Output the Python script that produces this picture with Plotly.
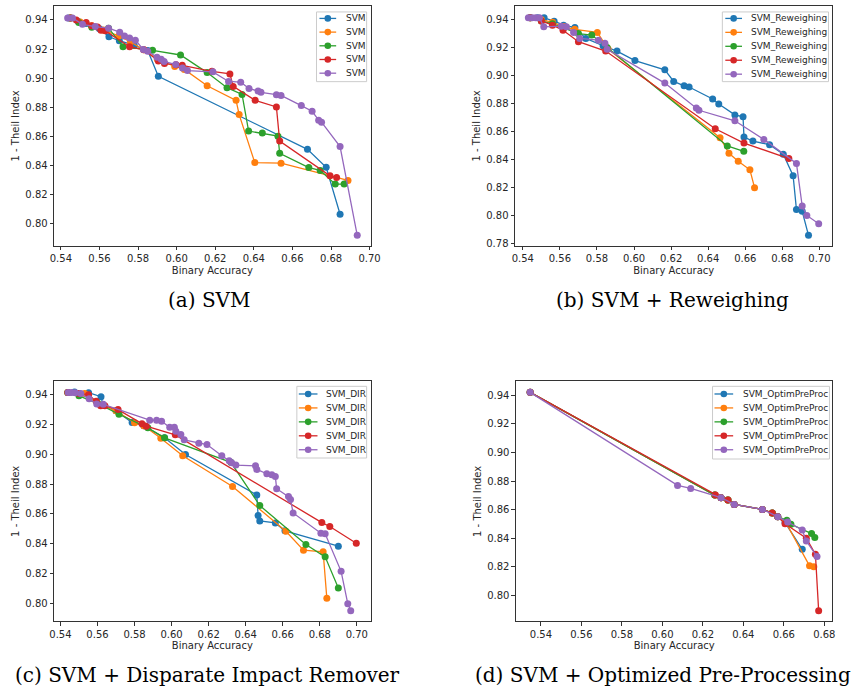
import plotly.graph_objects as go

W, H = 866, 693
COLORS = ["#1f77b4", "#ff7f0e", "#2ca02c", "#d62728", "#9467bd"]

# ---------------- (a) SVM ----------------
a_label = "SVM"
a_acc_1 = [0.5440, 0.5490, 0.5530, 0.5600, 0.5649, 0.5703, 0.5780, 0.5850, 0.5905, 0.6678, 0.6775, 0.6847]
a_thl_1 = [0.9414, 0.9390, 0.9375, 0.9340, 0.9284, 0.9257, 0.9225, 0.9190, 0.9013, 0.8510, 0.8387, 0.8064]
a_acc_2 = [0.5450, 0.5500, 0.5560, 0.5620, 0.5700, 0.5760, 0.5830, 0.5900, 0.5990, 0.6040, 0.6158, 0.6308, 0.6324, 0.6405, 0.6541, 0.6888]
a_thl_2 = [0.9414, 0.9385, 0.9360, 0.9330, 0.9290, 0.9250, 0.9195, 0.9130, 0.9080, 0.9060, 0.8947, 0.8847, 0.8749, 0.8419, 0.8415, 0.8296]
a_acc_3 = [0.5450, 0.5493, 0.5560, 0.5647, 0.5722, 0.5875, 0.6020, 0.6158, 0.6261, 0.6339, 0.6373, 0.6444, 0.6525, 0.6534, 0.6685, 0.6744, 0.6822, 0.6868]
a_thl_3 = [0.9414, 0.9382, 0.9350, 0.9343, 0.9216, 0.9191, 0.9159, 0.9038, 0.8934, 0.8888, 0.8636, 0.8622, 0.8601, 0.8483, 0.8385, 0.8365, 0.8271, 0.8271]
a_acc_4 = [0.5450, 0.5480, 0.5531, 0.5560, 0.5590, 0.5608, 0.5630, 0.5756, 0.5830, 0.5905, 0.5937, 0.5997, 0.6029, 0.6183, 0.6276, 0.6293, 0.6407, 0.6517, 0.6534, 0.6795, 0.6829]
a_thl_4 = [0.9414, 0.9400, 0.9382, 0.9360, 0.9352, 0.9329, 0.9325, 0.9216, 0.9195, 0.9118, 0.9100, 0.9091, 0.9088, 0.9047, 0.9029, 0.8943, 0.8847, 0.8802, 0.8567, 0.8328, 0.8317]
a_acc_5 = [0.5435, 0.5460, 0.5512, 0.5578, 0.5647, 0.5705, 0.5730, 0.5756, 0.5786, 0.5827, 0.5850, 0.5898, 0.5920, 0.5935, 0.5995, 0.6030, 0.6056, 0.6188, 0.6269, 0.6332, 0.6375, 0.6422, 0.6437, 0.6517, 0.6541, 0.6646, 0.6702, 0.6736, 0.6751, 0.6847, 0.6936]
a_thl_5 = [0.9414, 0.9414, 0.9370, 0.9354, 0.9343, 0.9316, 0.9290, 0.9275, 0.9261, 0.9197, 0.9185, 0.9143, 0.9130, 0.9115, 0.9093, 0.9070, 0.9052, 0.9043, 0.8977, 0.8972, 0.8929, 0.8911, 0.8902, 0.8886, 0.8881, 0.8811, 0.8772, 0.8711, 0.8697, 0.8529, 0.7919]

# ---------------- (b) SVM + Reweighing ----------------
b_label = "SVM_Reweighing"
b_acc_1 = [0.5440, 0.5480, 0.5515, 0.5569, 0.5620, 0.5681, 0.5740, 0.5833, 0.5908, 0.6005, 0.6166, 0.6214, 0.6270, 0.6297, 0.6424, 0.6457, 0.6544, 0.6588, 0.6593, 0.6641, 0.6731, 0.6805, 0.6858, 0.6876, 0.6907, 0.6941]
b_thl_1 = [0.9412, 0.9412, 0.9412, 0.9388, 0.9360, 0.9343, 0.9265, 0.9213, 0.9175, 0.9107, 0.9041, 0.8958, 0.8927, 0.8918, 0.8833, 0.8797, 0.8719, 0.8705, 0.8561, 0.8532, 0.8506, 0.8438, 0.8284, 0.8043, 0.8031, 0.7859]
b_acc_2 = [0.5440, 0.5500, 0.5560, 0.5620, 0.5680, 0.5802, 0.5860, 0.6464, 0.6512, 0.6562, 0.6625, 0.6650]
b_thl_2 = [0.9412, 0.9400, 0.9380, 0.9350, 0.9330, 0.9308, 0.9190, 0.8556, 0.8445, 0.8388, 0.8327, 0.8199]
b_acc_3 = [0.5440, 0.5500, 0.5560, 0.5620, 0.5700, 0.5772, 0.5855, 0.6503, 0.6592]
b_thl_3 = [0.9412, 0.9390, 0.9370, 0.9340, 0.9300, 0.9289, 0.9200, 0.8497, 0.8459]
b_acc_4 = [0.5440, 0.5500, 0.5560, 0.5617, 0.5700, 0.5847, 0.6438, 0.6593, 0.6835]
b_thl_4 = [0.9412, 0.9390, 0.9360, 0.9324, 0.9242, 0.9175, 0.8620, 0.8518, 0.8407]
b_acc_5 = [0.5430, 0.5450, 0.5470, 0.5490, 0.5513, 0.5608, 0.5635, 0.5674, 0.5707, 0.5808, 0.5843, 0.5855, 0.6166, 0.6336, 0.6350, 0.6544, 0.6700, 0.6876, 0.6907, 0.6932, 0.6996]
b_thl_5 = [0.9412, 0.9412, 0.9412, 0.9412, 0.9348, 0.9353, 0.9348, 0.9308, 0.9265, 0.9253, 0.9230, 0.9187, 0.8946, 0.8769, 0.8752, 0.8677, 0.8544, 0.8372, 0.8068, 0.8001, 0.7941]

# ---------------- (c) SVM + Disparate Impact Remover ----------------
c_label = "SVM_DIR"
c_acc_1 = [0.5440, 0.5476, 0.5552, 0.5619, 0.5630, 0.5700, 0.5787, 0.5850, 0.5962, 0.6075, 0.6460, 0.6467, 0.6476, 0.6560, 0.6612, 0.6900]
c_thl_1 = [0.9413, 0.9416, 0.9411, 0.9384, 0.9330, 0.9290, 0.9211, 0.9190, 0.9109, 0.8998, 0.8727, 0.8589, 0.8553, 0.8540, 0.8487, 0.8384]
c_acc_2 = [0.5440, 0.5531, 0.5600, 0.5700, 0.5800, 0.5850, 0.5942, 0.6060, 0.6329, 0.6617, 0.6712, 0.6818, 0.6838]
c_thl_2 = [0.9413, 0.9405, 0.9340, 0.9290, 0.9210, 0.9190, 0.9107, 0.8989, 0.8784, 0.8484, 0.8358, 0.8347, 0.8036]
c_acc_3 = [0.5440, 0.5500, 0.5600, 0.5716, 0.5872, 0.5962, 0.6320, 0.6476, 0.6725, 0.6829, 0.6900]
c_thl_3 = [0.9413, 0.9390, 0.9340, 0.9267, 0.9176, 0.9109, 0.8945, 0.8656, 0.8396, 0.8313, 0.8104]
c_acc_4 = [0.5440, 0.5500, 0.5552, 0.5593, 0.5617, 0.5640, 0.5711, 0.5840, 0.5863, 0.6020, 0.6811, 0.6854, 0.6997]
c_thl_4 = [0.9413, 0.9405, 0.9398, 0.9353, 0.9324, 0.9324, 0.9298, 0.9204, 0.9187, 0.9129, 0.8542, 0.8516, 0.8404]
c_acc_5 = [0.5442, 0.5460, 0.5480, 0.5510, 0.5555, 0.5596, 0.5631, 0.5882, 0.5919, 0.5946, 0.5990, 0.6015, 0.6023, 0.6050, 0.6068, 0.6147, 0.6191, 0.6271, 0.6311, 0.6324, 0.6347, 0.6453, 0.6460, 0.6514, 0.6541, 0.6560, 0.6567, 0.6631, 0.6642, 0.6656, 0.6806, 0.6829, 0.6915, 0.6951, 0.6967]
c_thl_5 = [0.9413, 0.9413, 0.9410, 0.9405, 0.9371, 0.9336, 0.9333, 0.9227, 0.9227, 0.9220, 0.9180, 0.9180, 0.9153, 0.9131, 0.9096, 0.9073, 0.9064, 0.8989, 0.8956, 0.8942, 0.8927, 0.8922, 0.8898, 0.8869, 0.8862, 0.8851, 0.8769, 0.8716, 0.8696, 0.8607, 0.8471, 0.8467, 0.8216, 0.8000, 0.7953]

# ---------------- (d) SVM + Optimized Pre-Processing ----------------
d_label = "SVM_OptimPreProc"
d_acc_1 = [0.5347, 0.6259, 0.6290, 0.6324, 0.6355, 0.6494, 0.6543, 0.6570, 0.6606, 0.6691]
d_thl_1 = [0.9421, 0.8702, 0.8684, 0.8667, 0.8637, 0.8602, 0.8577, 0.8551, 0.8510, 0.8323]
d_acc_2 = [0.5347, 0.6259, 0.6290, 0.6324, 0.6355, 0.6494, 0.6543, 0.6570, 0.6612, 0.6727, 0.6748]
d_thl_2 = [0.9421, 0.8702, 0.8684, 0.8667, 0.8637, 0.8602, 0.8577, 0.8551, 0.8505, 0.8207, 0.8200]
d_acc_3 = [0.5347, 0.6259, 0.6290, 0.6324, 0.6355, 0.6494, 0.6543, 0.6570, 0.6615, 0.6635, 0.6737, 0.6753]
d_thl_3 = [0.9421, 0.8702, 0.8684, 0.8667, 0.8637, 0.8602, 0.8577, 0.8551, 0.8526, 0.8498, 0.8433, 0.8405]
d_acc_4 = [0.5347, 0.6262, 0.6290, 0.6324, 0.6355, 0.6494, 0.6543, 0.6570, 0.6606, 0.6711, 0.6756, 0.6772]
d_thl_4 = [0.9421, 0.8702, 0.8684, 0.8667, 0.8637, 0.8602, 0.8577, 0.8551, 0.8502, 0.8400, 0.8288, 0.7893]
d_acc_5 = [0.5347, 0.6075, 0.6140, 0.6290, 0.6355, 0.6494, 0.6570, 0.6619, 0.6691, 0.6711, 0.6764]
d_thl_5 = [0.9421, 0.8770, 0.8749, 0.8684, 0.8637, 0.8602, 0.8551, 0.8514, 0.8458, 0.8381, 0.8272]

captions = ["(a) SVM", "(b) SVM + Reweighing",
            "(c) SVM + Disparate Impact Remover", "(d) SVM + Optimized Pre-Processing"]
x_title = "Binary Accuracy"
y_title = "1 - Theil Index"

# ---------------- layout helpers (pixel geometry) ----------------
def px(x):
    return x / W

def py(y):
    return 1 - y / H

panels = [
    dict(acc=[a_acc_1, a_acc_2, a_acc_3, a_acc_4, a_acc_5],
         thl=[a_thl_1, a_thl_2, a_thl_3, a_thl_4, a_thl_5], label=a_label,
         box=(50, 6, 372, 247), xr=[0.5365, 0.7005], yr=[0.7846, 0.9496],
         leg=dict(box=(317, 12, 368, 82), y0=18.5, dy=13.75, lx=(320, 337), mx=328.5, tx=345),
         cap=(208, 301)),
    dict(acc=[b_acc_1, b_acc_2, b_acc_3, b_acc_4, b_acc_5],
         thl=[b_thl_1, b_thl_2, b_thl_3, b_thl_4, b_thl_5], label=b_label,
         box=(519, 6, 842, 247), xr=[0.5358, 0.7070], yr=[0.7783, 0.9497],
         leg=dict(box=(730, 12, 838, 82), y0=18.5, dy=14.0, lx=(733, 750), mx=741.5, tx=757),
         cap=(679, 301)),
    dict(acc=[c_acc_1, c_acc_2, c_acc_3, c_acc_4, c_acc_5],
         thl=[c_thl_1, c_thl_2, c_thl_3, c_thl_4, c_thl_5], label=c_label,
         box=(50, 383, 372, 624), xr=[0.5366, 0.7074], yr=[0.7882, 0.9487],
         leg=dict(box=(297, 388, 368, 460), y0=395.7, dy=14.0, lx=(299, 318), mx=308.5, tx=325),
         cap=(206, 678)),
    dict(acc=[d_acc_1, d_acc_2, d_acc_3, d_acc_4, d_acc_5],
         thl=[d_thl_1, d_thl_2, d_thl_3, d_thl_4, d_thl_5], label=d_label,
         box=(520, 383, 842, 624), xr=[0.5277, 0.6840], yr=[0.7819, 0.9498],
         leg=dict(box=(720, 388, 839, 461), y0=395.7, dy=14.0, lx=(722, 741), mx=731.5, tx=749),
         cap=(670, 678)),
]

TICK_FONT = dict(family="DejaVu Sans", size=10, color="#262626")
LEG_FONT = dict(family="DejaVu Sans", size=9, color="#262626")
fig = go.Figure()
shapes = []
annotations = []
layout_axes = {}

for i, p in enumerate(panels):
    sfx = "" if i == 0 else str(i + 1)
    xa, ya = "x" + sfx, "y" + sfx
    for k in range(5):
        fig.add_trace(go.Scatter(
            x=p["acc"][k], y=p["thl"][k], mode="lines+markers", name=p["label"],
            xaxis=xa, yaxis=ya, showlegend=False,
            line=dict(color=COLORS[k], width=1.3),
            marker=dict(color=COLORS[k], size=7, line=dict(width=0)),
        ))
    x0, y0, x1, y1 = p["box"]
    common = dict(showline=True, mirror=True, linecolor="#333333", linewidth=1,
                  ticks="outside", ticklen=3.5, tickwidth=0.8, tickcolor="#333333",
                  showgrid=False, zeroline=False, tickfont=TICK_FONT, dtick=0.02,
                  tickformat=".2f", fixedrange=True)
    layout_axes["xaxis" + sfx] = dict(common, domain=[px(x0), px(x1)], range=p["xr"],
                                      anchor=ya, tick0=0.54,
                                      title=dict(text=x_title, font=TICK_FONT, standoff=3))
    layout_axes["yaxis" + sfx] = dict(common, domain=[py(y1), py(y0)], range=p["yr"],
                                      anchor=xa, tick0=0.80,
                                      title=dict(text=y_title, font=TICK_FONT, standoff=3))

    # legend (drawn as in the original matplotlib legend box)
    lg = p["leg"]
    bx0, by0, bx1, by1 = lg["box"]
    shapes.append(dict(type="rect", xref="paper", yref="paper",
                       x0=px(bx0), x1=px(bx1), y0=py(by1), y1=py(by0),
                       fillcolor="rgba(255,255,255,0.8)", line=dict(color="#cccccc", width=1),
                       layer="above"))
    for k in range(5):
        yy = lg["y0"] + k * lg["dy"]
        shapes.append(dict(type="line", xref="paper", yref="paper",
                           x0=px(lg["lx"][0]), x1=px(lg["lx"][1]), y0=py(yy), y1=py(yy),
                           line=dict(color=COLORS[k], width=1.3), layer="above"))
        shapes.append(dict(type="circle", xref="paper", yref="paper",
                           xsizemode="pixel", ysizemode="pixel",
                           xanchor=px(lg["mx"]), yanchor=py(yy),
                           x0=-3.3, x1=3.3, y0=-3.3, y1=3.3,
                           fillcolor=COLORS[k], line=dict(width=0), layer="above"))
        annotations.append(dict(text=p["label"], xref="paper", yref="paper",
                                x=px(lg["tx"]), y=py(yy), xanchor="left", yanchor="middle",
                                showarrow=False, font=LEG_FONT))
    cx, cy = p["cap"]
    annotations.append(dict(text=captions[i], xref="paper", yref="paper",
                            x=px(cx), y=py(cy), xanchor="center", yanchor="middle",
                            showarrow=False,
                            font=dict(family="DejaVu Serif", size=20, color="#000000")))

fig.update_layout(
    width=W, height=H, margin=dict(l=0, r=0, t=0, b=0),
    paper_bgcolor="white", plot_bgcolor="white",
    showlegend=False, shapes=shapes, annotations=annotations,
    **layout_axes,
)
fig.write_html("out.html", config={"displayModeBar": False},
               post_script="document.body.style.margin='0';document.body.style.overflow='hidden';")
